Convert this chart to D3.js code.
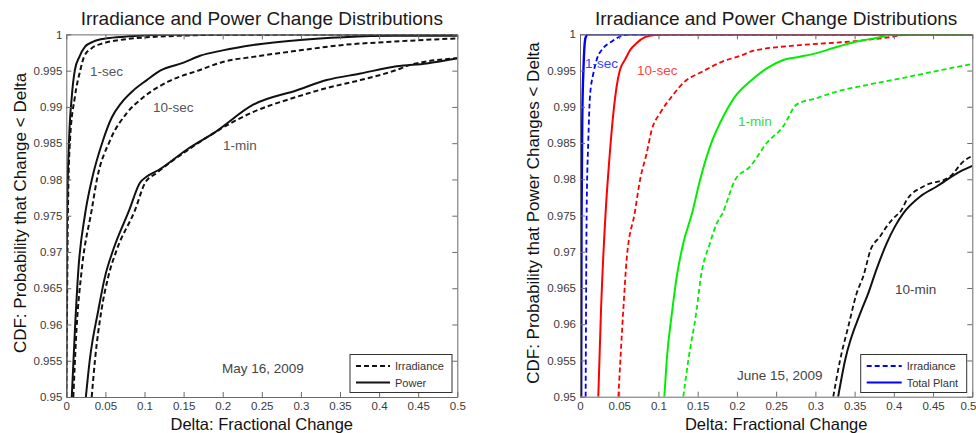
<!DOCTYPE html>
<html>
<head>
<meta charset="utf-8">
<script src="https://cdn.jsdelivr.net/npm/d3@7"></script>
<style>
  body { margin: 0; background: #fff; }
  svg { display: block; font-family: "Liberation Sans", Arial, sans-serif; }
</style>
</head>
<body>
<svg id="chart" width="976" height="433"></svg>
<script>
// Tick values shared by both panels
const xTicks = [0, 0.05, 0.1, 0.15, 0.2, 0.25, 0.3, 0.35, 0.4, 0.45, 0.5];
const yTicks = [0.95, 0.955, 0.96, 0.965, 0.97, 0.975, 0.98, 0.985, 0.99, 0.995, 1];

// May 16, 2009 — [delta, CDF] pairs
const may1sIrr = [[0,0.95],[0.001,0.963],[0.002,0.975],[0.0047,0.9854],[0.011,0.9914],[0.018,0.9951],[0.0226,0.9969],[0.0325,0.9981],[0.047,0.99877],[0.069,0.99923],[0.103,0.9996],[0.141,0.9998],[0.2,0.99995],[0.5,1]];
const may1sPow = [[0,0.95],[0.0005,0.9635],[0.001,0.975],[0.0035,0.9854],[0.007,0.9914],[0.011,0.9951],[0.0167,0.9969],[0.024,0.9983],[0.0345,0.999],[0.052,0.99946],[0.077,0.9997],[0.12,0.99995],[0.5,1]];
const may10sIrr = [[0.009,0.95],[0.013,0.9592],[0.0197,0.9675],[0.0325,0.9758],[0.039,0.9799],[0.056,0.9854],[0.077,0.9891],[0.097,0.9912],[0.13,0.99348],[0.171,0.9951],[0.2,0.9962],[0.239,0.9969],[0.299,0.9978],[0.354,0.99855],[0.418,0.9990],[0.5,0.99945]];
const may10sPow = [[0.007,0.95],[0.011,0.9592],[0.0154,0.9675],[0.024,0.9752],[0.0325,0.9799],[0.047,0.9854],[0.058,0.9885],[0.07,0.9905],[0.085,0.9922],[0.103,0.9937],[0.12,0.995],[0.15,0.9961],[0.171,0.99705],[0.2,0.9978],[0.239,0.99854],[0.299,0.99923],[0.354,0.9996],[0.418,0.9998],[0.5,0.9998]];
const may1mIrr = [[0.0325,0.95],[0.0367,0.9551],[0.045,0.962],[0.0537,0.9666],[0.0645,0.9703],[0.088,0.9758],[0.1006,0.9795],[0.1156,0.9809],[0.156,0.9841],[0.19,0.9865],[0.239,0.9893],[0.295,0.9914],[0.333,0.9926],[0.376,0.9937],[0.4225,0.9951],[0.44,0.9958],[0.5,0.9967]];
const may1mPow = [[0.025,0.95],[0.03,0.9551],[0.041,0.962],[0.0495,0.9666],[0.06,0.9703],[0.0806,0.9758],[0.094,0.9795],[0.103,0.9804],[0.118,0.9813],[0.154,0.9841],[0.19,0.9865],[0.239,0.9903],[0.295,0.9923],[0.333,0.9937],[0.376,0.9946],[0.4225,0.9956],[0.461,0.996],[0.5,0.9967]];

// June 15, 2009 — [delta, CDF] pairs
const jun1sIrr = [[0.0072,0.95],[0.0085,0.9758],[0.0106,0.9854],[0.0127,0.9914],[0.017,0.9946],[0.0213,0.9965],[0.0297,0.9981],[0.0404,0.999],[0.051,0.9997],[0.064,1],[0.5,1]];
const jun1sPow = [[0.0015,0.95],[0.002,0.975],[0.003,0.989],[0.0045,0.9955],[0.0055,0.998],[0.007,0.9995],[0.01,1],[0.5,1]];
const jun10sIrr = [[0.0489,0.95],[0.0552,0.962],[0.0595,0.969],[0.07,0.9755],[0.0765,0.9799],[0.085,0.9836],[0.0914,0.9868],[0.102,0.9891],[0.1169,0.9914],[0.1338,0.9935],[0.155,0.9948],[0.1806,0.9962],[0.206,0.9971],[0.22,0.9977],[0.28,0.9985],[0.344,0.999],[0.395,0.9996],[0.42,1],[0.5,1]];
const jun10sPow = [[0.0233,0.95],[0.0268,0.962],[0.0327,0.9755],[0.037,0.9822],[0.0425,0.9891],[0.0467,0.9928],[0.051,0.9951],[0.0574,0.9965],[0.0637,0.9978],[0.0723,0.9988],[0.0828,0.9996],[0.0956,0.9999],[0.115,1],[0.5,1]];
const jun1mIrr = [[0.1317,0.95],[0.138,0.955],[0.1487,0.962],[0.154,0.9665],[0.1657,0.9712],[0.1742,0.9739],[0.1816,0.9753],[0.1976,0.9799],[0.2167,0.98175],[0.238,0.985],[0.259,0.9873],[0.276,0.9903],[0.3017,0.9912],[0.327,0.9921],[0.3654,0.993],[0.408,0.9939],[0.4503,0.99485],[0.5,0.9959]];
const jun1mPow = [[0.1075,0.95],[0.1105,0.955],[0.1177,0.962],[0.1232,0.9665],[0.1317,0.9712],[0.1428,0.9753],[0.153,0.9799],[0.1657,0.9845],[0.1848,0.9891],[0.1976,0.9914],[0.2167,0.9935],[0.238,0.9953],[0.259,0.99645],[0.28,0.9969],[0.3017,0.9974],[0.3228,0.9981],[0.3527,0.999],[0.3866,0.9997],[0.397,1],[0.5,1]];
const jun10mIrr = [[0.3228,0.95],[0.3314,0.955],[0.342,0.9597],[0.3527,0.9643],[0.361,0.9666],[0.3705,0.9703],[0.3824,0.9721],[0.391,0.9735],[0.3993,0.9746],[0.41,0.9758],[0.4164,0.97715],[0.4376,0.979],[0.4716,0.98037],[0.4885,0.98244],[0.5,0.98322]];
const jun10mPow = [[0.329,0.95],[0.3378,0.955],[0.359,0.962],[0.3675,0.9643],[0.378,0.9676],[0.391,0.9712],[0.4015,0.9735],[0.412,0.9753],[0.4333,0.9776],[0.4546,0.979],[0.4843,0.98106],[0.5,0.98184]];

const panelTitle = "Irradiance and Power Change Distributions";
const xLabel = "Delta: Fractional Change";

const svg = d3.select("#chart");
const DASH = "5,3";
const FONT = '"Liberation Sans", Arial, sans-serif';

function drawPanel(cfg) {
  const { left, right, top, bottom, id } = cfg;
  const x = d3.scaleLinear().domain([0, 0.5]).range([left, right]);
  const y = d3.scaleLinear().domain([0.95, 1]).range([bottom, top]);
  const g = svg.append("g");

  g.append("clipPath").attr("id", id).append("rect")
    .attr("x", left).attr("y", top).attr("width", right - left).attr("height", bottom - top);

  // curves (monotone interpolation keeps each CDF non-decreasing)
  const line = d3.line().x(d => x(d[0])).y(d => y(d[1])).curve(d3.curveMonotoneX);
  const curves = g.append("g").attr("clip-path", `url(#${id})`);
  cfg.series.forEach(s => {
    curves.append("path").datum(s.data)
      .attr("d", line).attr("fill", "none")
      .attr("stroke", s.color).attr("stroke-width", s.width || 2)
      .attr("stroke-dasharray", s.dashed ? DASH : null)
      .attr("stroke-linejoin", "round");
  });

  // axes with inward ticks on all four sides
  const fmt = d => String(+d.toFixed(3));
  const axisStyle = sel => {
    sel.selectAll(".domain").attr("stroke", "#6a6a6a");
    sel.selectAll(".tick line").attr("stroke", "#6a6a6a");
    sel.selectAll(".tick text").attr("fill", "#3a3a3a").style("font-size", "11.5px")
      .style("font-family", FONT);
  };
  const xAxisG = g.append("g").attr("transform", `translate(0,${bottom})`)
    .call(d3.axisBottom(x).tickValues(xTicks).tickFormat(fmt).tickSize(-5).tickSizeOuter(0).tickPadding(5))
    .call(axisStyle);
  if (cfg.lastTickEnd) {
    // keep the final x label inside the page edge
    xAxisG.selectAll(".tick").filter(d => d === 0.5).select("text")
      .attr("text-anchor", "end").attr("x", 976 - right);
  }
  g.append("g").attr("transform", `translate(0,${top})`)
    .call(d3.axisTop(x).tickValues(xTicks).tickFormat("").tickSize(-5).tickSizeOuter(0))
    .call(axisStyle);
  g.append("g").attr("transform", `translate(${left},0)`)
    .call(d3.axisLeft(y).tickValues(yTicks).tickFormat(fmt).tickSize(-5).tickSizeOuter(0).tickPadding(4))
    .call(axisStyle);
  g.append("g").attr("transform", `translate(${right},0)`)
    .call(d3.axisRight(y).tickValues(yTicks).tickFormat("").tickSize(-5).tickSizeOuter(0))
    .call(axisStyle);

  // titles
  const cx = (left + right) / 2;
  g.append("text").attr("x", cx).attr("y", 25).attr("text-anchor", "middle")
    .attr("fill", "#1a1a1a").style("font-size", "19px").text(panelTitle);
  g.append("text").attr("x", cx).attr("y", 430).attr("text-anchor", "middle")
    .attr("fill", "#111").style("font-size", "16.5px").text(xLabel);
  g.append("text").attr("transform", `translate(${cfg.yLabelX},${cfg.yLabelY}) rotate(-90)`)
    .attr("text-anchor", "middle").attr("fill", "#111").style("font-size", "17px").text(cfg.yLabel);

  // curve annotations
  cfg.notes.forEach(n => {
    g.append("text").attr("x", n.x).attr("y", n.y).attr("fill", n.color)
      .style("font-size", "13.5px").text(n.text);
  });

  // legend
  const L = cfg.legend;
  g.append("rect").attr("x", L.x).attr("y", L.y).attr("width", L.w).attr("height", L.h)
    .attr("fill", "#fff").attr("stroke", "#333").attr("stroke-width", 1);
  L.items.forEach((it, i) => {
    const yy = L.y + 11.5 + i * 16.5;
    g.append("line").attr("x1", L.x + 6).attr("x2", L.x + L.lineLen).attr("y1", yy).attr("y2", yy)
      .attr("stroke", it.color).attr("stroke-width", 2)
      .attr("stroke-dasharray", it.dashed ? DASH : null);
    g.append("text").attr("x", L.x + L.lineLen + 5).attr("y", yy + 4)
      .attr("fill", "#333").style("font-size", "11px").text(it.text);
  });
}

drawPanel({
  id: "clipMay", left: 66.3, right: 457.3, top: 34.4, bottom: 397,
  yLabel: "CDF: Probability that Change < Delta", yLabelX: 25.5, yLabelY: 213,
  series: [
    { data: may1sIrr, color: "#111", dashed: true },
    { data: may1sPow, color: "#111" },
    { data: may10sIrr, color: "#111", dashed: true },
    { data: may10sPow, color: "#111" },
    { data: may1mIrr, color: "#111", dashed: true },
    { data: may1mPow, color: "#111" }
  ],
  notes: [
    { text: "1-sec", x: 90, y: 76, color: "#555" },
    { text: "10-sec", x: 153, y: 112, color: "#555" },
    { text: "1-min", x: 223, y: 150, color: "#555" },
    { text: "May 16, 2009", x: 222, y: 373, color: "#444" }
  ],
  legend: { x: 350, y: 354.5, w: 102, h: 38, lineLen: 40,
    items: [{ text: "Irradiance", color: "#111", dashed: true }, { text: "Power", color: "#111" }] }
});

drawPanel({
  id: "clipJun", left: 580, right: 972.3, top: 34.3, bottom: 396.7, lastTickEnd: true,
  yLabel: "CDF: Probability that Power Changes < Delta", yLabelX: 538.5, yLabelY: 213,
  series: [
    { data: jun1sIrr, color: "#0000ff", dashed: true, width: 1.8 },
    { data: jun1sPow, color: "#0000ff", width: 2.4 },
    { data: jun10sIrr, color: "#ff0000", dashed: true, width: 1.8 },
    { data: jun10sPow, color: "#ff0000" },
    { data: jun1mIrr, color: "#00ee00", dashed: true, width: 1.8 },
    { data: jun1mPow, color: "#00ee00" },
    { data: jun10mIrr, color: "#111", dashed: true, width: 1.8 },
    { data: jun10mPow, color: "#111" }
  ],
  notes: [
    { text: "1-sec", x: 585, y: 68, color: "#3344ff" },
    { text: "10-sec", x: 637, y: 75, color: "#ff4444" },
    { text: "1-min", x: 738, y: 126, color: "#33dd33" },
    { text: "10-min", x: 895, y: 294, color: "#444" },
    { text: "June 15, 2009", x: 737, y: 380, color: "#444" }
  ],
  legend: { x: 860.7, y: 354.5, w: 106, h: 38, lineLen: 41,
    items: [{ text: "Irradiance", color: "#0000ff", dashed: true }, { text: "Total Plant", color: "#0000ff" }] }
});
</script>
</body>
</html>
